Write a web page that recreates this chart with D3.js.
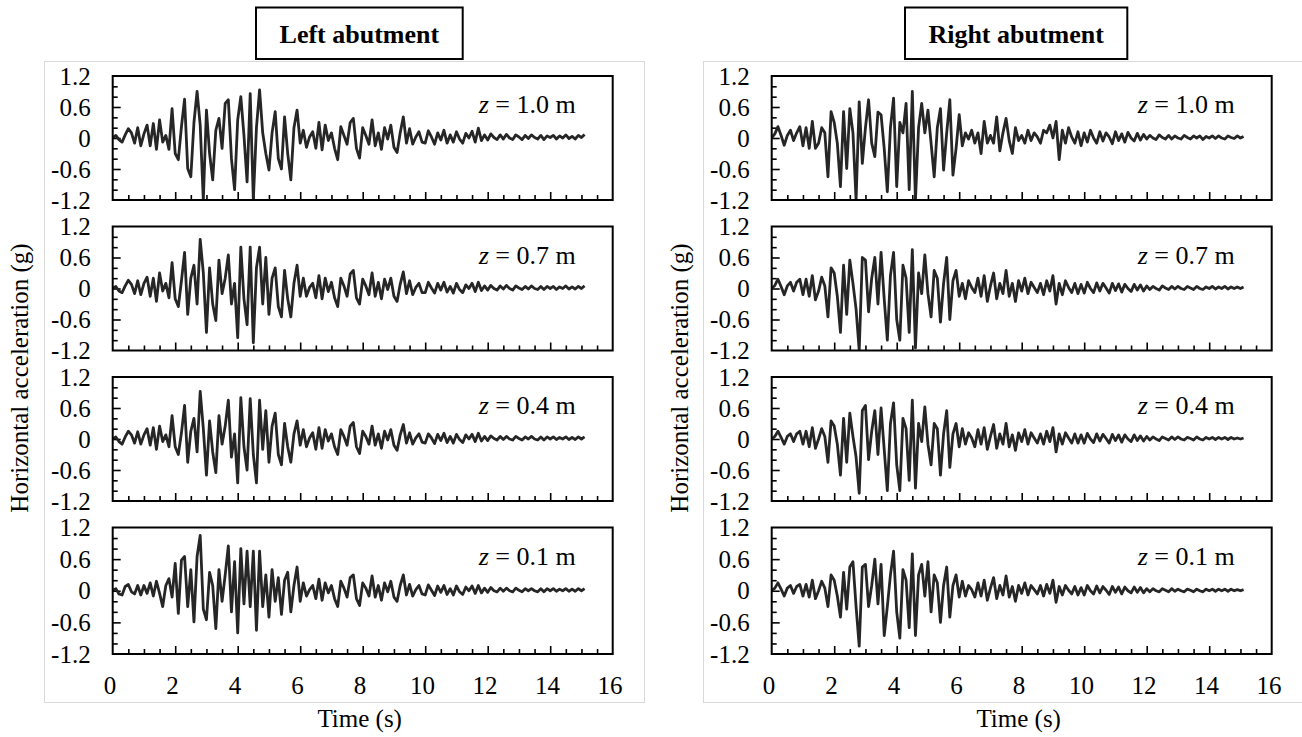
<!DOCTYPE html>
<meta charset="utf-8">
<style>
body { margin: 0; background: #fff; }
text { font-family: "Liberation Serif", "Times New Roman", serif; fill: #000; }
.lab text { font-size: 25px; }
.trace { fill: none; stroke: #262626; stroke-width: 2.8; stroke-linejoin: round; }
.frame { fill: none; stroke: #000; stroke-width: 2; }
.panel { fill: #fff; stroke: #d9d9d9; stroke-width: 1; }
.tk line { stroke: #000; stroke-width: 1.6; }
</style>
<body>
<script src="https://cdn.jsdelivr.net/npm/d3@7"></script>
<script>

// sampling step of the records (s), values in g
var dt = 0.1;

var leftZ10 = [
  0.00, 0.05, -0.03, -0.08, 0.06, 0.18, 0.10, -0.10, 0.20, -0.15,
  0.08, 0.25, -0.15, 0.28, -0.22, 0.35, -0.08, 0.05, -0.22, 0.57,
  -0.30, -0.42, 0.22, 0.75, -0.59, -0.75, 0.30, 0.90, 0.25, -1.20,
  0.54, -0.30, -0.81, 0.15, 0.38, -0.20, 0.67, 0.74, -0.40, -1.00,
  0.35, 0.80, 0.05, -0.85, 0.86, -1.20, 0.20, 0.93, 0.10, -0.30,
  -0.62, 0.10, 0.51, -0.40, -0.60, 0.41, -0.30, -0.81, 0.20, 0.54,
  -0.10, 0.15, -0.18, 0.02, 0.12, -0.20, 0.30, -0.23, 0.25, -0.05,
  0.10, -0.20, -0.42, 0.22, 0.05, -0.12, 0.30, 0.38, -0.20, -0.39,
  0.20, 0.05, -0.12, 0.35, -0.15, 0.10, -0.22, 0.20, -0.02, 0.25,
  -0.18, -0.28, 0.10, 0.41, -0.10, 0.18, -0.12, 0.02, 0.12, -0.08,
  -0.10, 0.14, 0.02, -0.12, 0.10, -0.04, 0.15, -0.10, 0.06, -0.08,
  0.12, -0.02, -0.10, 0.09, 0.00, 0.13, -0.08, 0.19, -0.05, 0.06,
  -0.04, 0.08, 0.01, -0.03, 0.06, -0.02, 0.07, 0.00, -0.03, 0.06,
  0.02, -0.03, 0.05, -0.01, 0.06, 0.01, -0.02, 0.05, -0.03, 0.04,
  0.01, 0.05, -0.02, 0.04, 0.00, 0.06, -0.01, 0.03, -0.02, 0.05,
  0.01, 0.07
];

var leftZ07 = [
  0.00, 0.04, -0.05, -0.08, 0.05, 0.16, 0.08, -0.10, 0.15, -0.12,
  0.10, 0.22, -0.15, 0.20, -0.25, 0.30, -0.05, 0.10, -0.18, 0.50,
  -0.20, -0.35, 0.15, 0.70, -0.50, 0.20, 0.45, -0.30, 0.95, 0.30,
  -0.85, 0.40, -0.30, -0.62, 0.55, -0.10, 0.20, 0.65, -0.30, 0.10,
  -0.95, 0.80, -0.20, -0.70, 0.80, -1.05, 0.40, 0.80, -0.30, 0.60,
  -0.50, 0.20, 0.40, -0.35, -0.55, 0.35, -0.20, -0.55, 0.10, 0.45,
  -0.15, 0.20, -0.15, 0.02, 0.10, -0.18, 0.25, -0.20, 0.20, -0.06,
  0.12, -0.18, -0.35, 0.20, 0.05, -0.15, 0.28, 0.35, -0.18, -0.30,
  0.18, 0.05, -0.12, 0.30, -0.15, 0.12, -0.20, 0.18, -0.02, 0.20,
  -0.15, -0.25, 0.08, 0.32, -0.10, 0.15, -0.12, 0.02, 0.10, -0.08,
  -0.08, 0.12, 0.01, -0.09, 0.10, -0.03, 0.12, -0.07, 0.04, -0.09,
  0.10, -0.02, -0.08, 0.07, 0.00, 0.10, -0.06, 0.12, -0.04, 0.05,
  -0.03, 0.06, 0.00, -0.03, 0.05, -0.01, 0.06, 0.00, -0.03, 0.05,
  0.01, -0.02, 0.04, -0.01, 0.05, 0.00, -0.02, 0.04, -0.02, 0.04,
  0.00, 0.04, -0.02, 0.03, 0.00, 0.05, -0.01, 0.03, -0.01, 0.04,
  0.00, 0.05
];

var leftZ04 = [
  0.00, 0.04, -0.05, -0.10, 0.04, 0.15, 0.08, -0.08, 0.14, -0.10,
  0.08, 0.20, -0.12, 0.22, -0.20, 0.25, -0.05, 0.08, -0.15, 0.45,
  -0.15, -0.30, 0.12, 0.65, -0.45, 0.15, 0.40, -0.25, 0.92, 0.20,
  -0.70, 0.35, -0.25, -0.65, 0.45, -0.10, 0.25, 0.75, -0.35, 0.10,
  -0.85, 0.80, -0.15, -0.60, 0.78, -0.30, -0.85, 0.75, -0.20, 0.55,
  -0.45, 0.25, 0.50, -0.30, -0.50, 0.30, -0.15, -0.45, 0.10, 0.35,
  -0.12, 0.18, -0.15, 0.02, 0.12, -0.20, 0.22, -0.18, 0.18, -0.04,
  0.10, -0.15, -0.30, 0.18, 0.05, -0.12, 0.25, 0.32, -0.15, -0.28,
  0.15, 0.05, -0.10, 0.25, -0.12, 0.10, -0.18, 0.15, -0.02, 0.18,
  -0.12, -0.22, 0.08, 0.28, -0.08, 0.12, -0.10, 0.02, 0.10, -0.06,
  -0.08, 0.10, 0.02, -0.09, 0.09, -0.03, 0.11, -0.07, 0.05, -0.08,
  0.09, -0.01, -0.07, 0.08, 0.00, 0.09, -0.05, 0.11, -0.04, 0.05,
  -0.03, 0.06, 0.01, -0.02, 0.05, -0.01, 0.05, 0.00, -0.02, 0.05,
  0.01, -0.02, 0.04, 0.00, 0.05, 0.00, -0.02, 0.04, -0.02, 0.04,
  0.00, 0.04, -0.01, 0.03, 0.00, 0.04, -0.01, 0.03, -0.01, 0.04,
  0.00, 0.04
];

var leftZ01 = [
  0.00, 0.04, -0.06, -0.08, 0.08, 0.12, -0.02, -0.06, 0.10, -0.08,
  0.10, -0.05, 0.15, -0.10, 0.18, -0.05, -0.30, 0.10, 0.23, -0.12,
  0.52, -0.43, 0.58, 0.65, -0.30, 0.40, -0.59, 0.65, 1.05, -0.35,
  -0.55, 0.35, 0.10, -0.72, 0.40, -0.20, 0.30, 0.85, -0.40, 0.55,
  -0.80, 0.80, -0.25, 0.75, -0.30, 0.75, -0.75, 0.75, -0.30, 0.30,
  -0.50, 0.40, -0.20, 0.25, -0.45, 0.20, 0.35, -0.40, 0.10, 0.45,
  -0.20, 0.15, -0.10, 0.02, 0.10, -0.15, 0.22, -0.18, 0.15, -0.04,
  0.10, -0.15, -0.30, 0.18, 0.05, -0.12, 0.25, 0.30, -0.15, -0.28,
  0.15, 0.05, -0.10, 0.28, -0.12, 0.10, -0.18, 0.15, -0.02, 0.18,
  -0.12, -0.20, 0.10, 0.30, -0.08, 0.12, -0.10, 0.02, 0.10, -0.06,
  -0.08, 0.11, 0.01, -0.09, 0.09, -0.03, 0.10, -0.07, 0.04, -0.08,
  0.09, -0.02, -0.07, 0.07, 0.00, 0.09, -0.05, 0.10, -0.04, 0.05,
  -0.03, 0.06, 0.00, -0.02, 0.05, -0.01, 0.05, 0.00, -0.02, 0.05,
  0.01, -0.02, 0.04, 0.00, 0.04, 0.00, -0.02, 0.04, -0.02, 0.04,
  0.00, 0.04, -0.01, 0.03, 0.00, 0.04, -0.01, 0.03, -0.01, 0.04,
  0.00, 0.04
];

var rightZ10 = [
  0.00, 0.08, 0.22, 0.05, -0.14, 0.05, 0.15, -0.05, 0.10, 0.22,
  -0.15, 0.20, -0.20, 0.32, -0.20, -0.10, 0.20, 0.10, -0.75, 0.51,
  0.30, -0.10, -0.94, 0.51, -0.59, 0.57, 0.10, -1.20, 0.70, -0.49,
  0.20, 0.74, -0.10, -0.36, 0.50, 0.45, -0.20, -1.04, 0.20, 0.77,
  -0.94, 0.30, 0.10, 0.67, -1.00, 0.90, -1.20, 0.20, 0.67, 0.10,
  0.54, -0.10, -0.75, 0.20, 0.57, -0.62, 0.10, 0.74, -0.72, -0.20,
  0.45, -0.15, 0.10, -0.02, 0.15, -0.10, 0.10, -0.30, 0.32, -0.10,
  0.05, -0.10, 0.41, -0.25, 0.10, 0.38, -0.05, -0.30, 0.20, -0.05,
  0.05, -0.10, 0.15, -0.05, 0.10, 0.02, -0.10, 0.15, 0.10, 0.25,
  0.00, 0.32, -0.42, 0.15, -0.10, 0.20, 0.02, -0.10, 0.12, -0.15,
  0.10, -0.08, 0.15, 0.00, -0.10, 0.12, -0.06, 0.10, 0.02, -0.11,
  0.12, -0.05, 0.08, -0.08, 0.11, 0.00, -0.06, 0.09, -0.04, 0.07,
  -0.02, 0.05, 0.00, -0.03, 0.06, 0.01, -0.02, 0.05, -0.02, 0.04,
  0.00, -0.02, 0.05, 0.01, -0.02, 0.04, 0.00, 0.04, -0.03, 0.03,
  0.00, 0.04, -0.01, 0.04, 0.00, -0.02, 0.04, 0.01, -0.01, 0.04,
  0.00, 0.03
];

var rightZ07 = [
  0.00, 0.06, 0.18, 0.04, -0.12, 0.05, 0.12, -0.05, 0.12, 0.18,
  -0.12, 0.18, -0.15, 0.25, -0.22, -0.05, 0.22, 0.05, -0.55, 0.40,
  0.30, -0.15, -0.85, 0.45, -0.50, 0.55, 0.10, -0.40, -1.20, 0.60,
  0.55, -0.45, 0.20, 0.60, -0.30, 0.70, -0.20, -1.00, 0.25, 0.70,
  -0.60, -1.00, 0.45, 0.20, -0.85, 0.75, -1.15, 0.30, -0.10, 0.65,
  -0.10, -0.55, 0.35, 0.20, -0.65, 0.10, 0.60, -0.60, 0.15, 0.35,
  -0.15, 0.10, -0.20, 0.15, 0.02, -0.08, 0.20, -0.15, 0.25, -0.25,
  0.05, 0.30, -0.20, 0.10, -0.10, 0.35, -0.15, 0.10, -0.25, 0.15,
  -0.05, 0.20, -0.10, 0.12, 0.02, -0.08, 0.10, -0.12, 0.15, -0.05,
  0.25, -0.30, 0.10, -0.12, 0.15, 0.02, -0.08, 0.10, -0.10, 0.08,
  -0.09, 0.12, 0.00, -0.08, 0.11, -0.05, 0.10, 0.01, -0.09, 0.10,
  -0.04, 0.09, -0.07, 0.08, 0.00, -0.06, 0.08, -0.03, 0.07, -0.05,
  0.05, -0.02, 0.04, 0.00, -0.03, 0.05, 0.01, -0.02, 0.04, -0.01,
  0.04, 0.00, -0.02, 0.04, 0.01, -0.02, 0.04, 0.00, -0.02, 0.03,
  0.00, 0.04, -0.01, 0.03, 0.00, 0.04, -0.01, 0.03, 0.00, 0.03,
  0.00, 0.03
];

var rightZ04 = [
  0.00, 0.05, 0.15, 0.03, -0.10, 0.05, 0.10, -0.05, 0.10, 0.15,
  -0.10, 0.15, -0.15, 0.22, -0.18, 0.00, 0.20, 0.05, -0.45, 0.35,
  0.25, -0.10, -0.70, 0.40, -0.45, 0.50, 0.05, -0.35, -1.05, 0.55,
  0.65, -0.40, 0.15, 0.55, -0.30, 0.60, -0.20, -1.00, 0.30, 0.70,
  -0.50, -1.00, 0.40, 0.20, -0.80, 0.75, -0.95, 0.30, -0.05, 0.62,
  -0.10, -0.50, 0.30, 0.20, -0.70, 0.10, 0.55, -0.55, 0.10, 0.30,
  -0.15, 0.20, -0.10, 0.12, 0.02, -0.15, 0.18, -0.10, 0.22, -0.20,
  0.05, 0.28, -0.18, 0.10, -0.10, 0.30, -0.15, 0.08, -0.22, 0.12,
  -0.05, 0.18, -0.10, 0.12, 0.02, -0.08, 0.10, -0.10, 0.15, -0.05,
  0.22, -0.25, 0.10, -0.10, 0.12, 0.02, -0.08, 0.10, -0.08, 0.08,
  -0.08, 0.11, 0.00, -0.07, 0.10, -0.04, 0.09, 0.01, -0.08, 0.09,
  -0.03, 0.08, -0.06, 0.08, 0.00, -0.05, 0.08, -0.03, 0.06, -0.04,
  0.05, -0.02, 0.04, 0.00, -0.03, 0.04, 0.01, -0.02, 0.04, -0.01,
  0.04, 0.00, -0.02, 0.03, 0.01, -0.02, 0.04, 0.00, -0.02, 0.03,
  0.00, 0.03, -0.01, 0.03, 0.00, 0.03, -0.01, 0.03, 0.00, 0.02,
  0.00, 0.02
];

var rightZ01 = [
  0.00, 0.05, 0.15, 0.03, -0.10, 0.05, 0.10, -0.05, 0.08, 0.12,
  -0.10, 0.12, -0.12, 0.20, -0.15, 0.00, 0.18, 0.05, -0.30, 0.30,
  0.20, -0.10, -0.50, 0.35, -0.35, 0.45, 0.55, -0.30, -1.05, 0.45,
  0.50, -0.30, 0.10, 0.60, -0.25, 0.50, -0.85, -0.30, 0.30, 0.75,
  -0.40, -0.90, 0.40, 0.20, -0.70, 0.70, -0.85, 0.30, 0.50, -0.10,
  0.55, -0.40, 0.30, 0.15, -0.60, 0.10, 0.45, -0.50, 0.10, 0.30,
  -0.12, 0.18, -0.10, 0.10, 0.02, -0.12, 0.15, -0.10, 0.20, -0.18,
  0.05, 0.25, -0.15, 0.10, -0.08, 0.28, -0.12, 0.08, -0.20, 0.10,
  -0.05, 0.15, -0.08, 0.10, 0.02, -0.06, 0.10, -0.10, 0.12, -0.05,
  0.20, -0.22, 0.08, -0.08, 0.10, 0.01, -0.06, 0.08, -0.08, 0.06,
  -0.08, 0.10, 0.00, -0.06, 0.09, -0.04, 0.08, 0.01, -0.07, 0.08,
  -0.03, 0.07, -0.06, 0.07, 0.00, -0.04, 0.07, -0.03, 0.06, -0.04,
  0.04, -0.02, 0.04, 0.00, -0.02, 0.04, 0.01, -0.02, 0.04, -0.01,
  0.03, 0.00, -0.02, 0.03, 0.01, -0.02, 0.03, 0.00, -0.02, 0.03,
  0.00, 0.03, -0.01, 0.03, 0.00, 0.03, -0.01, 0.03, 0.00, 0.02,
  0.00, 0.02
];

var depths = ["1.0", "0.7", "0.4", "0.1"];
var sides = ["Left abutment", "Right abutment"];
var xTicks = [0, 2, 4, 6, 8, 10, 12, 14, 16];
var yTicks = [-1.2, -0.6, 0, 0.6, 1.2];
var xMinor = [0.5, 1, 1.5, 2.5, 3, 3.5, 4.5, 5, 5.5, 6.5, 7, 7.5, 8.5, 9, 9.5,
              10.5, 11, 11.5, 12.5, 13, 13.5, 14.5, 15, 15.5];
var xMajor = [2, 4, 6, 8, 10, 12, 14];
var yMinor = [-1.0, -0.8, -0.4, -0.2, 0.2, 0.4, 0.8, 1.0];
var yMajor = [-0.6, 0, 0.6];

var records = [
  [leftZ10, leftZ07, leftZ04, leftZ01],
  [rightZ10, rightZ07, rightZ04, rightZ01]
];

// layout
var plotLeft = [112.7, 771.7], plotW = 500;
var rowTop = [76, 226.5, 377, 527.5], rowH = [124, 124, 124, 126.5];
var frameLeft = [44, 703];
var titleBox = [[256, 206.7], [905, 222.3]];
var yTitleX = [19, 679];

var svg = d3.select("body").append("svg")
    .attr("width", 1302)
    .attr("height", 737);

svg.append("rect").attr("width", 1302).attr("height", 737).attr("fill", "#fff");

sides.forEach(function(side, s) {

    // outer chart area
    svg.append("rect")
        .attr("class", "panel")
        .attr("x", frameLeft[s] + 0.5).attr("y", 61.5)
        .attr("width", 600).attr("height", 641);

    // title box
    svg.append("rect")
        .attr("class", "frame")
        .attr("x", titleBox[s][0]).attr("y", 7.5)
        .attr("width", titleBox[s][1]).attr("height", 51.5)
        .attr("fill", "#fff");
    svg.append("text")
        .attr("x", titleBox[s][0] + titleBox[s][1] / 2)
        .attr("y", 43)
        .attr("text-anchor", "middle")
        .style("font-size", "26px")
        .style("font-weight", "bold")
        .text(side);

    // y axis title
    svg.append("text")
        .attr("transform", "translate(" + yTitleX[s] + ",378) rotate(-90)")
        .attr("text-anchor", "middle")
        .attr("dominant-baseline", "central")
        .style("font-size", "25px")
        .text("Horizontal acceleration (g)");

    // x axis title
    svg.append("text")
        .attr("x", plotLeft[s] + plotW / 2 - 3)
        .attr("y", 727)
        .attr("text-anchor", "middle")
        .style("font-size", "25px")
        .text("Time (s)");

    records[s].forEach(function(rec, r) {
        var h = rowH[r];
        var x = d3.scaleLinear().domain([0, 16]).range([0, plotW]);
        var y = d3.scaleLinear().domain([-1.2, 1.2]).range([h, 0]);

        var g = svg.append("g")
            .attr("transform", "translate(" + plotLeft[s] + "," + rowTop[r] + ")");

        var clipId = "clip" + s + r;
        g.append("clipPath").attr("id", clipId)
          .append("rect").attr("width", plotW).attr("height", h);

        // ticks inside the box
        var tk = g.append("g").attr("class", "tk");
        tk.append("g").attr("transform", "translate(0," + h + ")")
            .call(d3.axisBottom(x).tickValues(xMinor).tickSize(-5).tickFormat(""));
        tk.append("g").attr("transform", "translate(0," + h + ")")
            .call(d3.axisBottom(x).tickValues(xMajor).tickSize(-8).tickFormat(""));
        tk.append("g")
            .call(d3.axisLeft(y).tickValues(yMinor).tickSize(-5).tickFormat(""));
        tk.append("g")
            .call(d3.axisLeft(y).tickValues(yMajor).tickSize(-8).tickFormat(""));
        tk.selectAll(".domain").remove();

        var valueline = d3.line()
            .x(function(d, i) { return x(i * dt); })
            .y(function(d) { return y(d); });

        g.append("path")
            .datum(rec)
            .attr("class", "trace")
            .attr("clip-path", "url(#" + clipId + ")")
            .attr("d", valueline);

        g.append("rect")
            .attr("class", "frame")
            .attr("width", plotW).attr("height", h);

        // y tick labels
        g.append("g").attr("class", "lab")
            .call(d3.axisLeft(y).tickValues(yTicks).tickSize(0).tickPadding(22)
                .tickFormat(function(d) { return String(d); }))
            .select(".domain").remove();

        // x tick labels on bottom row only
        if (r === records[s].length - 1) {
            g.append("g").attr("class", "lab")
                .attr("transform", "translate(-3.3," + h + ")")
                .call(d3.axisBottom(x).tickValues(xTicks).tickSize(0).tickPadding(22)
                    .tickFormat(function(d) { return String(d); }))
                .select(".domain").remove();
        }

        // depth label
        var zl = g.append("text")
            .attr("x", plotW - 37)
            .attr("y", 37)
            .attr("text-anchor", "end")
            .style("font-size", "26px");
        zl.append("tspan").style("font-style", "italic").text("z");
        zl.append("tspan").text(" = " + depths[r] + " m");
    });
});

</script>
</body>
